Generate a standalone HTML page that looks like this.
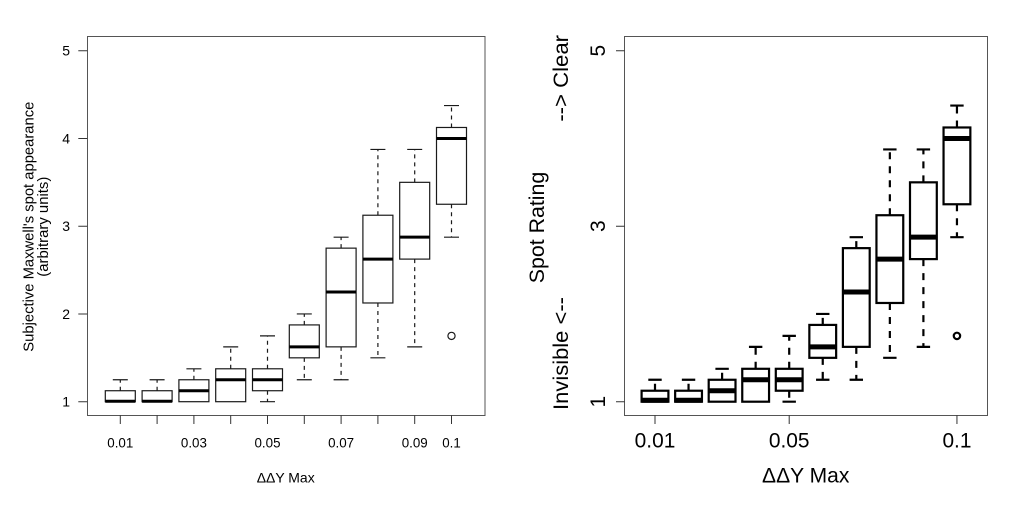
<!DOCTYPE html>
<html><head><meta charset="utf-8"><style>
html,body{margin:0;padding:0;background:#fff;}
svg{display:block;}
text{font-family:"Liberation Sans",Arial,sans-serif;fill:#000;}
</style></head><body>
<svg width="1024" height="505" viewBox="0 0 1024 505" xmlns="http://www.w3.org/2000/svg">
<rect width="1024" height="505" fill="#fff"/>

<!-- LEFT PANEL -->
<rect x="87.5" y="36.5" width="397.5" height="379" fill="none" stroke="#555" stroke-width="1"/>
<g stroke="#333" stroke-width="1" fill="none">
<path d="M78.3 50.7H87.3M78.3 138.45H87.3M78.3 226.2H87.3M78.3 313.95H87.3M78.3 401.7H87.3"/>
<path d="M120.3 415.3V424M157.1 415.3V424M193.9 415.3V424M230.7 415.3V424M267.5 415.3V424M304.3 415.3V424M341.1 415.3V424M377.9 415.3V424M414.7 415.3V424M451.5 415.3V424"/>
</g>
<g font-size="14" text-anchor="end">
<text x="70" y="55.7">5</text>
<text x="70" y="143.45">4</text>
<text x="70" y="231.2">3</text>
<text x="70" y="318.95">2</text>
<text x="70" y="406.7">1</text>
</g>
<g font-size="13.5" text-anchor="middle">
<text x="120.3" y="447.3" textLength="26" lengthAdjust="spacingAndGlyphs">0.01</text>
<text x="193.9" y="447.3" textLength="26" lengthAdjust="spacingAndGlyphs">0.03</text>
<text x="267.5" y="447.3" textLength="26" lengthAdjust="spacingAndGlyphs">0.05</text>
<text x="341.1" y="447.3" textLength="26" lengthAdjust="spacingAndGlyphs">0.07</text>
<text x="414.7" y="447.3" textLength="26" lengthAdjust="spacingAndGlyphs">0.09</text>
<text x="451.5" y="447.3" textLength="18.5" lengthAdjust="spacingAndGlyphs">0.1</text>
<text x="285.7" y="482.7" font-size="14" textLength="58" lengthAdjust="spacingAndGlyphs">ΔΔY Max</text>
</g>
<g font-size="14.8" text-anchor="middle">
<text transform="translate(33.3,226.7) rotate(-90)" textLength="250" lengthAdjust="spacingAndGlyphs">Subjective Maxwell's spot appearance</text>
<text transform="translate(47.8,226.7) rotate(-90)" textLength="100" lengthAdjust="spacingAndGlyphs">(arbitrary units)</text>
</g>

<!-- left boxes -->
<g stroke="#1a1a1a" stroke-width="1.2" fill="#fff">
<rect x="105.3" y="390.73" width="30" height="10.97"/>
<rect x="142.1" y="390.73" width="30" height="10.97"/>
<rect x="178.9" y="379.76" width="30" height="21.94"/>
<rect x="215.7" y="368.79" width="30" height="32.91"/>
<rect x="252.5" y="368.79" width="30" height="21.94"/>
<rect x="289.3" y="324.92" width="30" height="32.91"/>
<rect x="326.1" y="248.14" width="30" height="98.72"/>
<rect x="362.9" y="215.23" width="30" height="87.75"/>
<rect x="399.7" y="182.33" width="30" height="76.77"/>
<rect x="436.5" y="127.48" width="30" height="76.78"/>
</g>
<g stroke="#1a1a1a" stroke-width="1.2" fill="none" stroke-dasharray="4,4">
<path d="M120.3 390.73V379.76M157.1 390.73V379.76M193.9 379.76V368.79M230.7 368.79V346.86M267.5 368.79V335.89M267.5 390.73V401.7"/>
<path d="M304.3 324.92V313.95M304.3 357.83V379.76M341.1 248.14V237.17M341.1 346.86V379.76"/>
<path d="M377.9 215.23V149.42M377.9 302.98V357.83M414.7 182.33V149.42M414.7 259.1V346.86M451.5 127.48V105.54M451.5 204.26V237.17"/>
</g>
<g stroke="#1a1a1a" stroke-width="1.2" fill="none">
<path d="M112.8 379.76H127.8M149.6 379.76H164.6M186.4 368.79H201.4M223.2 346.86H238.2M260 335.89H275M260 401.7H275"/>
<path d="M296.8 313.95H311.8M296.8 379.76H311.8M333.6 237.17H348.6M333.6 379.76H348.6"/>
<path d="M370.4 149.42H385.4M370.4 357.83H385.4M407.2 149.42H422.2M407.2 346.86H422.2M444 105.54H459M444 237.17H459"/>
<circle cx="451.5" cy="335.89" r="3.6"/>
</g>
<g stroke="#000" stroke-width="3" fill="none">
<path d="M105.3 401.2H135.3M142.1 401.2H172.1M178.9 390.73H208.9M215.7 379.76H245.7M252.5 379.76H282.5"/>
<path d="M289.3 346.86H319.3M326.1 292.01H356.1M362.9 259.1H392.9M399.7 237.17H429.7M436.5 138.45H466.5"/>
</g>

<!-- RIGHT PANEL -->
<rect x="624.5" y="36.5" width="363" height="379" fill="none" stroke="#555" stroke-width="1"/>
<g stroke="#333" stroke-width="1" fill="none">
<path d="M616 50.7H624.7M616 226.2H624.7M616 401.7H624.7"/>
<path d="M655 415.3V424M789.2 415.3V424M956.95 415.3V424"/>
</g>
<g font-size="21" text-anchor="middle">
<text transform="translate(605,50.7) rotate(-90)">5</text>
<text transform="translate(605,226.2) rotate(-90)">3</text>
<text transform="translate(605,401.7) rotate(-90)">1</text>
<text x="655" y="447.3" textLength="40.7" lengthAdjust="spacingAndGlyphs">0.01</text>
<text x="789.2" y="447.3" textLength="40.7" lengthAdjust="spacingAndGlyphs">0.05</text>
<text x="956.95" y="447.3" textLength="29" lengthAdjust="spacingAndGlyphs">0.1</text>
<text x="805.7" y="482.7" textLength="87.3" lengthAdjust="spacingAndGlyphs">ΔΔY Max</text>
<text transform="translate(544,227.5) rotate(-90)" textLength="111.6" lengthAdjust="spacingAndGlyphs">Spot Rating</text>
</g>
<g font-size="21.5">
<text transform="translate(568,410) rotate(-90)" textLength="113" lengthAdjust="spacingAndGlyphs">Invisible &lt;--</text>
<text transform="translate(568,35) rotate(-90)" text-anchor="end" textLength="86.7" lengthAdjust="spacingAndGlyphs">--&gt; Clear</text>
</g>

<!-- right boxes -->
<g stroke="#000" stroke-width="2.2" fill="#fff">
<rect x="641.6" y="390.73" width="26.8" height="10.97"/>
<rect x="675.15" y="390.73" width="26.8" height="10.97"/>
<rect x="708.7" y="379.76" width="26.8" height="21.94"/>
<rect x="742.25" y="368.79" width="26.8" height="32.91"/>
<rect x="775.8" y="368.79" width="26.8" height="21.94"/>
<rect x="809.35" y="324.92" width="26.8" height="32.91"/>
<rect x="842.9" y="248.14" width="26.8" height="98.72"/>
<rect x="876.45" y="215.23" width="26.8" height="87.75"/>
<rect x="910" y="182.33" width="26.8" height="76.77"/>
<rect x="943.55" y="127.48" width="26.8" height="76.78"/>
</g>
<g stroke="#000" stroke-width="2.2" fill="none" stroke-dasharray="7,7">
<path d="M655 390.73V379.76M688.55 390.73V379.76M722.1 379.76V368.79M755.65 368.79V346.86M789.2 368.79V335.89M789.2 390.73V401.7"/>
<path d="M822.75 324.92V313.95M822.75 357.83V379.76M856.3 248.14V237.17M856.3 346.86V379.76"/>
<path d="M889.85 215.23V149.42M889.85 302.98V357.83M923.4 182.33V149.42M923.4 259.1V346.86M956.95 127.48V105.54M956.95 204.26V237.17"/>
</g>
<g stroke="#000" stroke-width="2.2" fill="none">
<path d="M648.3 379.76H661.7M681.85 379.76H695.25M715.4 368.79H728.8M748.95 346.86H762.35M782.5 335.89H795.9M782.5 401.7H795.9"/>
<path d="M816.05 313.95H829.45M816.05 379.76H829.45M849.6 237.17H863M849.6 379.76H863"/>
<path d="M883.15 149.42H896.55M883.15 357.83H896.55M916.7 149.42H930.1M916.7 346.86H930.1M950.25 105.54H963.65M950.25 237.17H963.65"/>
<circle cx="956.95" cy="335.89" r="3.2"/>
</g>
<g stroke="#000" stroke-width="5" fill="none">
<path d="M641.6 400.2H668.4M675.15 400.2H701.95M708.7 390.73H735.5M742.25 379.76H769.05M775.8 379.76H802.6"/>
<path d="M809.35 346.86H836.15M842.9 292.01H869.7M876.45 259.1H903.25M910 237.17H936.8M943.55 138.45H970.35"/>
</g>
</svg>
</body></html>
